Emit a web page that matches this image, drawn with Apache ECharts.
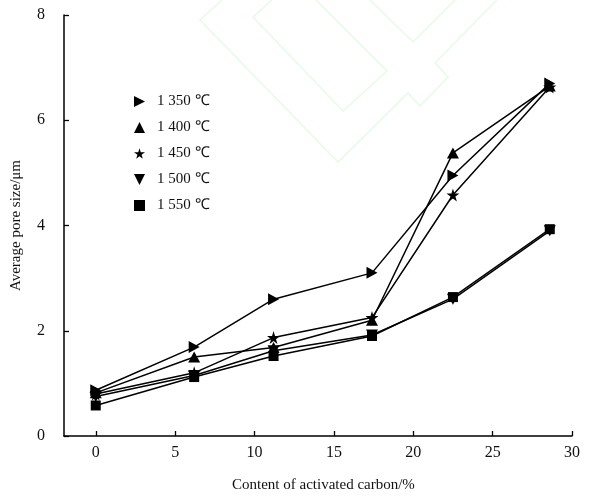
<!DOCTYPE html>
<html>
<head>
<meta charset="utf-8">
<script src="https://cdn.jsdelivr.net/npm/echarts@6/dist/echarts.min.js"></script>
<style>
  html, body { margin: 0; padding: 0; background: #fff; }
  #chart { width: 592px; height: 500px; }
</style>
</head>
<body>
<div id="chart"></div>
<script>
// Activated carbon content (%) at which pore size was measured
const carbonContent = [0, 6.2, 11.2, 17.4, 22.5, 28.6];

// Average pore size (μm) per sintering temperature
const pore1350 = [0.87, 1.69, 2.6, 3.1, 4.95, 6.7];
const pore1400 = [0.82, 1.5, 1.68, 2.2, 5.38, 6.65];
const pore1450 = [0.8, 1.2, 1.87, 2.25, 4.58, 6.63];
const pore1500 = [0.75, 1.15, 1.62, 1.92, 2.6, 3.9];
const pore1550 = [0.58, 1.12, 1.52, 1.9, 2.64, 3.93];

const seriesNames = ['1 350 \u2103', '1 400 \u2103', '1 450 \u2103', '1 500 \u2103', '1 550 \u2103'];
const xTicks = [0, 5, 10, 15, 20, 25, 30];

const FONT = "'Liberation Serif', 'Times New Roman', serif";

const SYM_RIGHT = 'path://M0,0 L10,5 L0,10 Z';
const SYM_UP = 'path://M5,0 L10,10 L0,10 Z';
const SYM_STAR = 'path://M50,0 L61,35 L98,35 L68,57 L79,91 L50,70 L21,91 L32,57 L2,35 L39,35 Z';
const SYM_DOWN = 'path://M0,0 L10,0 L5,10 Z';
const SYM_SQUARE = 'rect';

const symbols = [SYM_RIGHT, SYM_UP, SYM_STAR, SYM_DOWN, SYM_SQUARE];
const sizes = [[11, 12], [12, 11], 13, [12, 11], 10];
const values = [pore1350, pore1400, pore1450, pore1500, pore1550];

const chart = echarts.init(document.getElementById('chart'), null, { renderer: 'canvas' });

const series = seriesNames.map((name, i) => ({
  name: name,
  type: 'line',
  data: carbonContent.map((x, j) => [x, values[i][j]]),
  symbol: symbols[i],
  symbolSize: sizes[i],
  showAllSymbol: true,
  lineStyle: { color: '#000', width: 1.5 },
  itemStyle: { color: '#000' },
  emphasis: { disabled: true },
  z: 3
}));

// faint emblem outlines in the background
const emblemColor = '#e8fbe8';
const emblem = [
  [[222, 0], [200, 20], [338, 162], [408, 93], [420, 106], [448, 77], [435, 63], [480, 17], [497, 0]],
  [[272, 0], [253, 17], [343, 111], [387, 71], [316, 0]],
  [[370, 0], [413, 42], [452, 3], [455, 0]]
].map(pts => ({
  type: 'polyline',
  shape: { points: pts },
  style: { stroke: emblemColor, lineWidth: 1.6, fill: null },
  z: -10,
  silent: true
}));

chart.setOption({
  animation: false,
  backgroundColor: '#fff',
  grid: { left: 64, right: 20, top: 15, bottom: 64 },
  legend: {
    orient: 'vertical',
    left: 129,
    top: 89,
    itemGap: 11,
    itemWidth: 11,
    itemHeight: 11,
    selectedMode: false,
    textStyle: { fontFamily: FONT, fontSize: 15, color: '#111', padding: [0, 0, 0, 7] },
    data: seriesNames.map((n, i) => ({ name: n, icon: symbols[i], itemStyle: { color: '#000' } }))
  },
  xAxis: {
    type: 'value',
    min: -2,
    max: 30,
    splitLine: { show: false },
    axisLine: { onZero: false, lineStyle: { color: '#000', width: 1.5 } },
    axisTick: { inside: true, length: 5, customValues: xTicks, lineStyle: { color: '#000', width: 1.3 } },
    axisLabel: { customValues: xTicks, color: '#111', fontFamily: FONT, fontSize: 16, margin: 9 }
  },
  yAxis: {
    type: 'value',
    min: 0,
    max: 8,
    interval: 2,
    name: 'Average pore size/\u03bcm',
    nameLocation: 'middle',
    nameGap: 40,
    nameTextStyle: { fontFamily: FONT, fontSize: 15, color: '#111' },
    splitLine: { show: false },
    axisLine: { onZero: false, lineStyle: { color: '#000', width: 1.5 } },
    axisTick: { inside: true, length: 5, lineStyle: { color: '#000', width: 1.3 } },
    axisLabel: { color: '#111', fontFamily: FONT, fontSize: 16, margin: 19 }
  },
  graphic: emblem.concat([
    {
      type: 'text',
      left: 232,
      top: 478,
      style: { text: 'Content of activated carbon/%', fill: '#111', font: '15px ' + FONT },
      z: 10
    }
  ]),
  series: series
});
</script>
</body>
</html>
